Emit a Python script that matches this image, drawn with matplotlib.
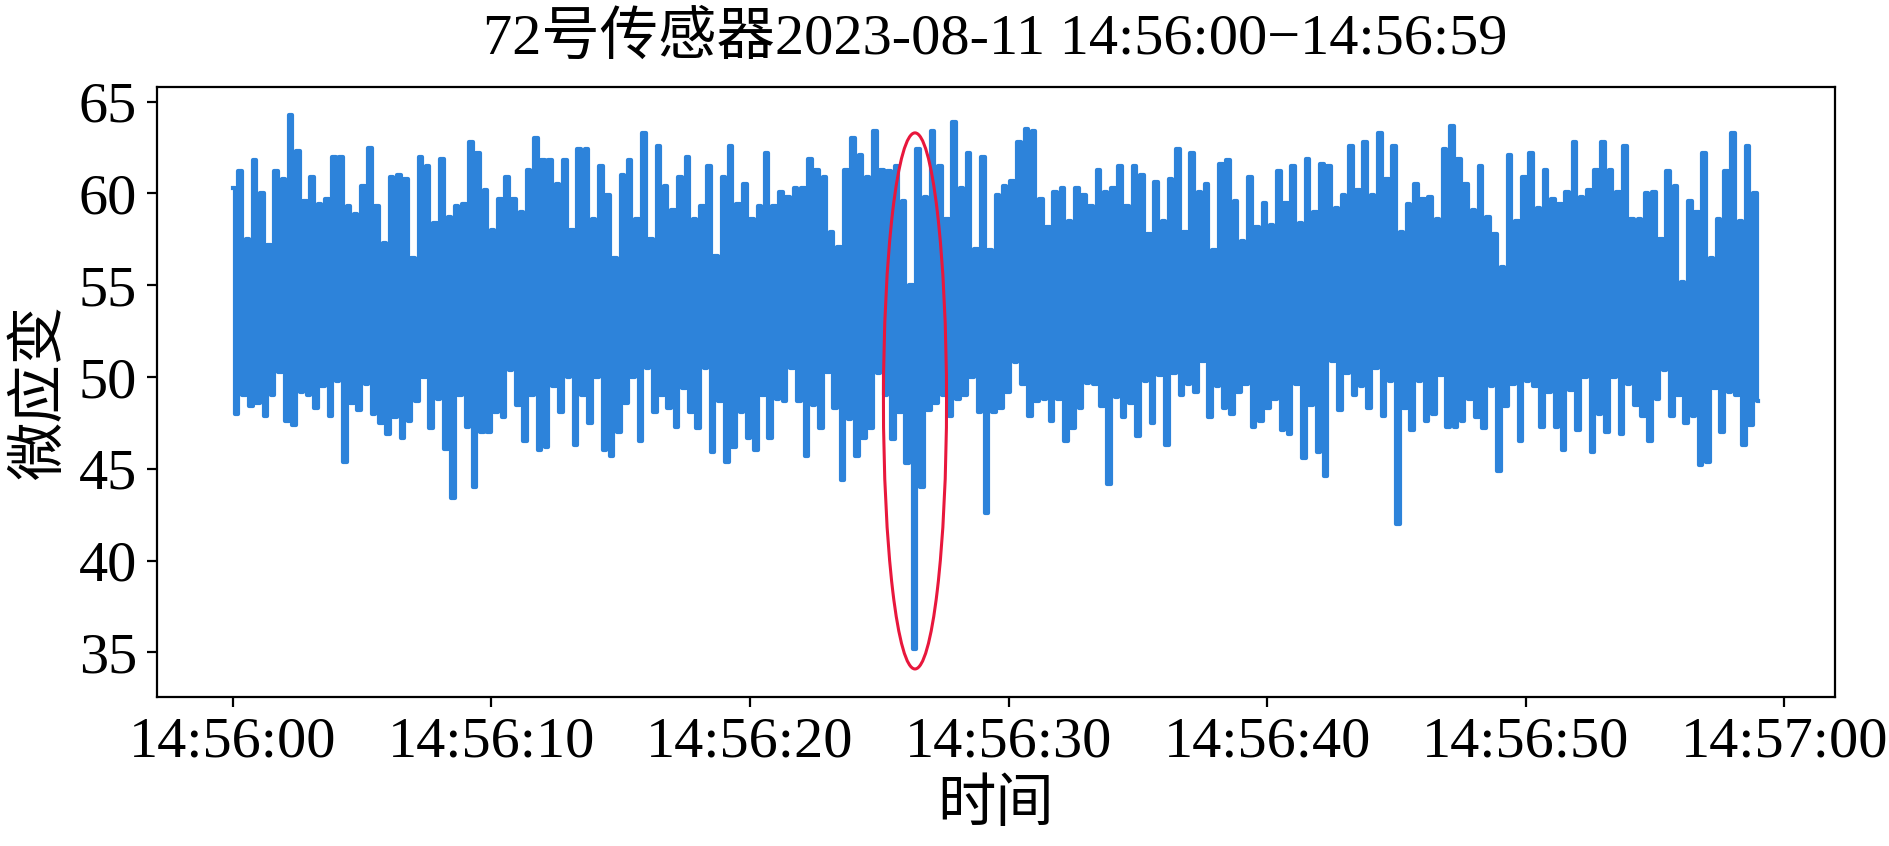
import numpy as np
import pandas as pd
import matplotlib
matplotlib.use("Agg")
import matplotlib.pyplot as plt
import matplotlib.dates as mdates
from matplotlib.patches import Ellipse

plt.rcParams['font.family'] = ['Liberation Serif', 'Noto Sans CJK SC']
plt.rcParams['axes.unicode_minus'] = False

# upper / lower swings of the strain signal (~0.28 s apart)
upper_peaks = [
    60.3, 61.2, 57.5, 61.8, 60.0, 57.2, 61.2, 60.8, 64.3, 62.3, 59.6, 60.9, 59.4, 59.7, 62.0, 62.0, 59.3,
    58.9, 60.4, 62.5, 59.3, 57.3, 60.9, 61.0, 60.8, 56.5, 62.0, 61.5, 58.4, 61.9, 58.7, 59.3, 59.4, 62.8,
    62.2, 60.2, 58.0, 59.7, 60.9, 59.7, 59.0, 61.3, 63.0, 61.8, 61.8, 60.5, 61.8, 58.0, 62.4, 62.4, 58.6, 61.5,
    59.9, 56.5, 61.0, 61.8, 58.6, 63.3, 57.5, 62.6, 60.4, 59.1, 60.9, 62.0, 58.6, 59.3, 61.5, 56.6, 60.9, 62.6,
    59.4, 60.5, 58.6, 59.3, 62.2, 59.3, 60.1, 59.8, 60.3, 60.3, 61.9, 61.3, 60.9, 57.9, 57.1, 61.3, 63.0, 62.1,
    60.9, 63.4, 61.3, 61.2, 61.5, 59.6, 55.0, 62.4, 59.8, 63.4, 61.5, 58.6, 63.9, 60.3, 62.2, 57.0, 62.0, 56.9,
    59.9, 60.4, 60.7, 62.8, 63.5, 63.4, 59.7, 58.2, 60.1, 60.3, 58.5, 60.3, 59.9, 59.3, 61.3, 60.1, 60.3, 61.5,
    59.3, 61.5, 61.0, 57.8, 60.6, 58.5, 60.8, 62.4, 57.9, 62.2, 60.1, 60.5, 56.9, 61.6, 61.8, 59.6, 57.4, 60.9,
    58.2, 59.5, 58.3, 61.2, 59.5, 61.5, 58.4, 61.9, 59.0, 61.6, 61.5, 59.2, 59.9, 62.6, 60.2, 62.8, 59.9, 63.3,
    60.8, 62.6, 57.9, 59.4, 60.5, 59.7, 59.8, 58.6, 62.4, 63.7, 61.9, 60.5, 59.1, 61.5, 58.7, 57.8, 56.0, 62.1,
    58.5, 60.9, 62.2, 59.2, 61.3, 59.7, 59.4, 60.1, 62.8, 59.8, 60.2, 61.3, 62.8, 61.3, 60.1, 62.6, 58.6,
    58.6, 60.0, 60.1, 57.5, 61.2, 60.4, 55.2, 59.6, 59.0, 62.2, 56.5, 58.6, 61.2, 63.3, 58.5, 62.6, 60.0,
]
lower_peaks = [
    48.0, 49.0, 48.4, 48.6, 47.9, 49.0, 50.3, 47.6, 47.4, 49.2, 49.0, 48.3, 49.5, 47.9, 49.8, 45.4, 48.6,
    48.2, 49.6, 48.0, 47.5, 46.9, 47.8, 46.7, 47.6, 48.7, 50.0, 47.2, 48.8, 46.1, 43.4, 49.0, 47.3, 44.0,
    47.0, 47.0, 48.1, 47.8, 50.4, 48.5, 46.5, 49.0, 46.0, 46.2, 49.5, 48.1, 50.0, 46.3, 49.0, 47.5, 50.0, 46.0,
    45.7, 47.0, 48.6, 50.0, 46.5, 50.5, 48.1, 49.0, 48.3, 47.3, 49.4, 48.1, 47.2, 50.5, 45.9, 48.7, 45.4, 46.2,
    48.1, 46.7, 46.0, 49.0, 46.7, 48.8, 48.7, 50.5, 48.7, 45.7, 48.5, 47.2, 50.3, 48.3, 44.4, 47.7, 45.7, 46.7,
    47.2, 50.2, 49.0, 46.6, 48.1, 45.3, 35.2, 44.0, 48.2, 48.6, 49.0, 47.9, 48.8, 49.0, 50.0, 48.1, 42.6, 48.1,
    48.3, 49.2, 50.8, 49.6, 47.9, 48.7, 48.8, 47.6, 48.8, 46.5, 47.2, 48.3, 49.7, 49.6, 48.4, 44.2, 48.9, 47.8,
    48.6, 46.8, 49.8, 47.5, 50.1, 46.3, 50.2, 49.0, 49.6, 49.2, 50.9, 47.8, 49.5, 48.3, 48.0, 49.2, 49.6, 47.3,
    47.6, 48.3, 48.8, 47.1, 46.9, 49.6, 45.6, 48.5, 45.9, 44.6, 50.9, 48.2, 50.2, 49.0, 49.5, 48.3, 50.5, 47.9,
    49.8, 42.0, 48.3, 47.1, 49.8, 47.6, 48.0, 50.1, 47.3, 47.3, 47.6, 48.8, 47.8, 47.2, 49.5, 44.9, 48.4, 49.6,
    46.5, 49.8, 49.5, 47.3, 49.2, 47.3, 46.0, 49.3, 47.1, 50.0, 45.9, 48.0, 47.0, 50.0, 46.9, 49.6, 48.5,
    47.9, 46.5, 48.8, 50.4, 47.9, 49.0, 47.5, 47.9, 45.2, 45.4, 49.4, 47.0, 49.2, 49.0, 46.3, 47.4, 48.7,
]

strain = np.column_stack([upper_peaks, lower_peaks]).ravel()
times = pd.date_range('2023-08-11 14:56:00', '2023-08-11 14:56:59', periods=len(strain))

# marked anomaly (red ellipse)
mark_center = pd.Timestamp('2023-08-11 14:56:26.38')
mark_width_s = 2.44
mark_y = (34.1, 63.3)

fig = plt.figure(figsize=(9.45, 4.23), dpi=200)
ax = fig.add_axes([0.0829, 0.1765, 0.8878, 0.7209])

ax.plot(times, strain, color='#2d83da', lw=1.5, drawstyle='steps-mid')

ell = Ellipse((mdates.date2num(mark_center), sum(mark_y) / 2),
              width=mark_width_s / 86400, height=mark_y[1] - mark_y[0],
              fill=False, edgecolor='#e8173c', lw=1.1, zorder=5)
ax.add_patch(ell)

ax.xaxis.set_major_locator(mdates.SecondLocator(bysecond=range(0, 60, 10)))
ax.xaxis.set_major_formatter(mdates.DateFormatter('%H:%M:%S'))
ax.set_yticks([35, 40, 45, 50, 55, 60, 65])
ax.tick_params(labelsize=21)

ax.set_title('72号传感器2023-08-11 14:56:00−14:56:59', fontsize=21, pad=12)
ax.set_xlabel('时间', fontsize=21)
ax.set_ylabel('微应变', fontsize=21)

fig.savefig('out.png', dpi=200)
